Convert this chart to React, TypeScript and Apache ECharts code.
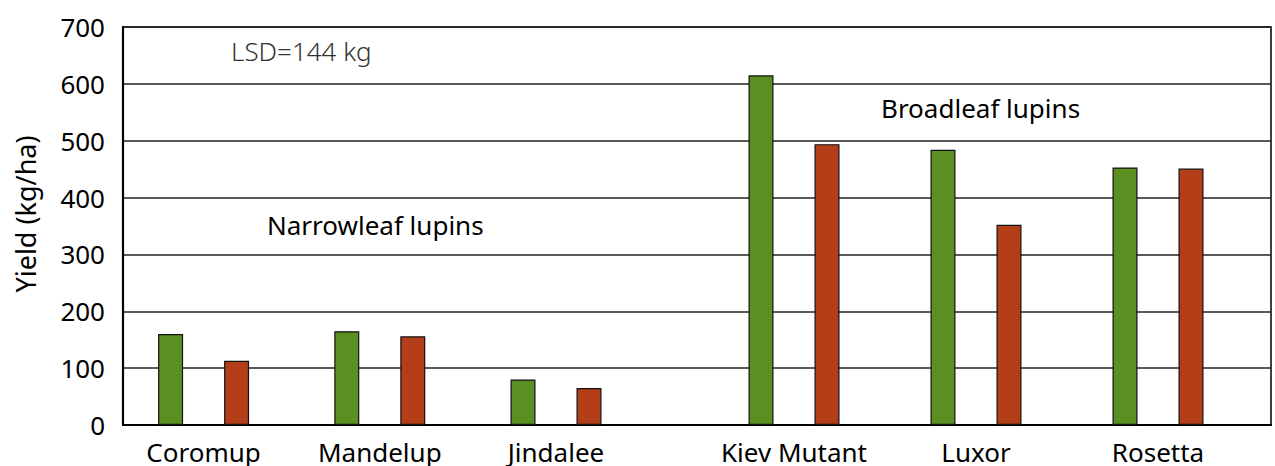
import React, { useEffect, useRef } from 'react';
import * as echarts from 'echarts';

// ---- data ----
const narrowleafCultivars = ['Coromup', 'Mandelup', 'Jindalee'];
const broadleafCultivars = ['Kiev Mutant', 'Luxor', 'Rosetta'];
const narrowleafGreen = [160, 165, 80];
const narrowleafRed = [113, 156, 65];
const broadleafGreen = [615, 484, 453];
const broadleafRed = [494, 352, 451];
const yMin = 0;
const yMax = 700;
const yStep = 100;
const yAxisTitle = 'Yield (kg/ha)';
const lsdLabel = 'LSD=144 kg';
const narrowleafLabel = 'Narrowleaf lupins';
const broadleafLabel = 'Broadleaf lupins';

const FONT = '"Noto Sans", "Open Sans", sans-serif';
const GREEN = '#5b8f22';
const RED = '#b43e18';

export default function App() {
  const ref = useRef<HTMLDivElement>(null);
  useEffect(() => {
    if (!ref.current) return;
    const chart = echarts.init(ref.current, null, { renderer: 'svg' });
    const top = 27;
    const height = 398;
    const barStyle = (c: string) => ({ color: c, borderColor: '#111', borderWidth: 1.2 });
    const hiddenY = (gi: number) => ({
      gridIndex: gi, type: 'value', min: yMin, max: yMax, interval: yStep, show: false,
    });
    const catX = (gi: number, data: string[]) => ({
      gridIndex: gi,
      type: 'category',
      data,
      axisLine: { show: false },
      axisTick: { show: false },
      splitLine: { show: false },
      axisLabel: { fontSize: 26, color: '#000', margin: 14, fontFamily: FONT, interval: 0 },
    });
    chart.setOption({
      animation: false,
      backgroundColor: '#fff',
      grid: [
        { left: 123, top, width: 1148, height, show: true, borderColor: '#000', borderWidth: 1.5 },
        { left: 115.5, top, width: 528.6, height },
        { left: 703, top, width: 546, height },
      ],
      xAxis: [
        {
          gridIndex: 0, type: 'value', min: 0, max: 1,
          axisLine: { show: true, onZero: false, lineStyle: { color: '#000', width: 2.2 } },
          axisTick: { show: false }, axisLabel: { show: false }, splitLine: { show: false },
        },
        catX(1, narrowleafCultivars),
        catX(2, broadleafCultivars),
      ],
      yAxis: [
        {
          gridIndex: 0, type: 'value', min: yMin, max: yMax, interval: yStep,
          name: yAxisTitle, nameLocation: 'middle', nameGap: 84,
          nameTextStyle: { fontSize: 27, color: '#000', fontFamily: FONT, padding: [0, 0, 0, 24] },
          axisLine: { show: true, lineStyle: { color: '#000', width: 2.2 } },
          axisTick: { show: false },
          axisLabel: { fontSize: 26, color: '#000', margin: 18, fontFamily: FONT },
          splitLine: { show: true, lineStyle: { color: '#222', width: 1.5 } },
        },
        hiddenY(1),
        hiddenY(2),
      ],
      series: [
        { type: 'bar', name: 'Green', xAxisIndex: 1, yAxisIndex: 1, data: narrowleafGreen, barWidth: 25, barGap: '164%', itemStyle: barStyle(GREEN) },
        { type: 'bar', name: 'Red', xAxisIndex: 1, yAxisIndex: 1, data: narrowleafRed, barWidth: 25, barGap: '164%', itemStyle: barStyle(RED) },
        { type: 'bar', name: 'Green', xAxisIndex: 2, yAxisIndex: 2, data: broadleafGreen, barWidth: 25, barGap: '164%', itemStyle: barStyle(GREEN) },
        { type: 'bar', name: 'Red', xAxisIndex: 2, yAxisIndex: 2, data: broadleafRed, barWidth: 25, barGap: '164%', itemStyle: barStyle(RED) },
      ],
      graphic: [
        { type: 'text', left: 231, top: 38, style: { text: lsdLabel, fontSize: 26, fontWeight: 300, fill: '#333', fontFamily: FONT } },
        { type: 'text', left: 267, top: 212, style: { text: narrowleafLabel, fontSize: 26, fill: '#000', fontFamily: FONT } },
        { type: 'text', left: 881, top: 95, style: { text: broadleafLabel, fontSize: 26, fill: '#000', fontFamily: FONT } },
      ],
    });
    return () => chart.dispose();
  }, []);
  return <div ref={ref} style={{ position: 'absolute', left: 0, top: 0, width: 1275, height: 466 }} />;
}
